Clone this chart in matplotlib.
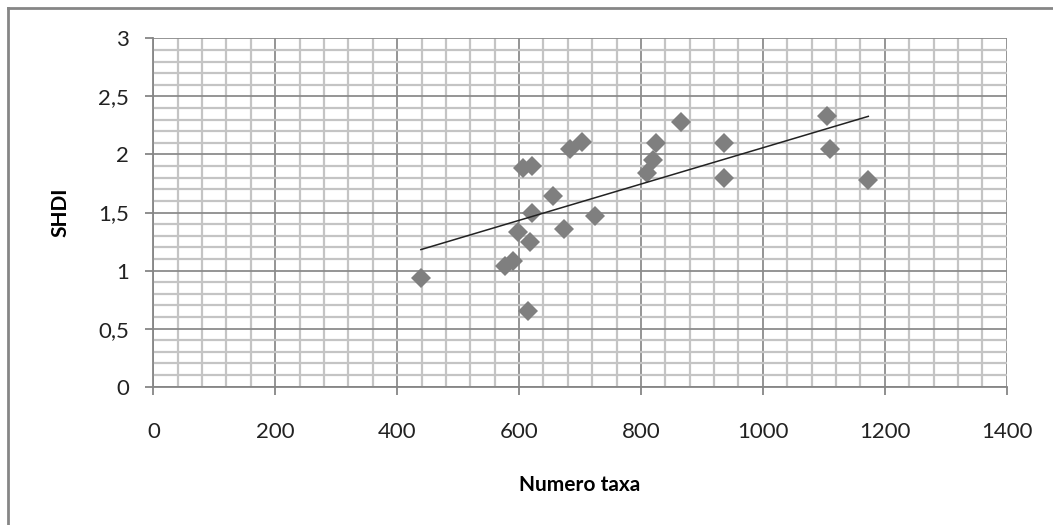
import numpy as np
import matplotlib.pyplot as plt
from matplotlib.lines import Line2D
from matplotlib.ticker import MultipleLocator, FuncFormatter

# number of taxa vs. Shannon diversity index, one point per sample
numero_taxa = [439, 577, 590, 614, 598, 618, 621, 607, 621, 656, 674, 725,
               684, 703, 810, 820, 825, 866, 936, 936, 1105, 1110, 1173]
shdi = [0.94, 1.04, 1.08, 0.65, 1.33, 1.25, 1.50, 1.88, 1.90, 1.64, 1.36, 1.47,
        2.05, 2.11, 1.84, 1.95, 2.10, 2.28, 2.10, 1.80, 2.33, 2.05, 1.78]

x_ticks = [0, 200, 400, 600, 800, 1000, 1200, 1400]
y_ticks = [0, 0.5, 1, 1.5, 2, 2.5, 3]

plt.rcParams['font.family'] = ['Lato', 'DejaVu Sans']

fig = plt.figure(figsize=(10.53, 5.25), dpi=100)
fig.patch.set_facecolor('white')
ax = fig.add_axes([0.1456, 0.2634, 0.8104, 0.6636])

# grid: light minor lines, darker major lines
ax.set_xlim(0, 1400)
ax.set_ylim(0, 3)
ax.set_xticks(x_ticks)
ax.set_yticks(y_ticks)
ax.xaxis.set_minor_locator(MultipleLocator(40))
ax.yaxis.set_minor_locator(MultipleLocator(0.1))
ax.grid(which='minor', color='#c4c4c4', linewidth=1.6)
ax.grid(which='major', color='#8c8c8c', linewidth=1.3)
ax.set_axisbelow(True)

ax.yaxis.set_major_formatter(FuncFormatter(lambda v, p: f'{v:g}'.replace('.', ',')))

for side in ['top', 'right']:
    ax.spines[side].set_visible(False)
for side in ['left', 'bottom']:
    ax.spines[side].set_color('#868686')
    ax.spines[side].set_linewidth(1.3)

ax.tick_params(which='major', length=5.5, width=1.3, color='#868686',
               labelsize=16, labelcolor='#222222')
ax.tick_params(axis='y', pad=12)
ax.tick_params(axis='x', pad=20)
ax.tick_params(which='minor', length=0)

# scatter and linear trendline
ax.plot(numero_taxa, shdi, linestyle='', marker='D', markersize=10,
        color='#7f7f7f', markeredgewidth=0, zorder=3)
coef = np.polyfit(numero_taxa, shdi, 1)
xs = np.array([min(numero_taxa), max(numero_taxa)])
ax.plot(xs, np.polyval(coef, xs), color='#222222', linewidth=1.1, zorder=4)

ax.set_xlabel('Numero taxa', fontsize=15, fontweight='bold', labelpad=24)
ax.set_ylabel('SHDI', fontsize=15, fontweight='bold', labelpad=20)

# chart border (top and left edges)
fig.add_artist(Line2D([0.008, 1.0], [0.985, 0.985], color='#868686', linewidth=2))
fig.add_artist(Line2D([0.008, 0.008], [0.0, 0.985], color='#868686', linewidth=2))

fig.savefig('out.png', dpi=100)
